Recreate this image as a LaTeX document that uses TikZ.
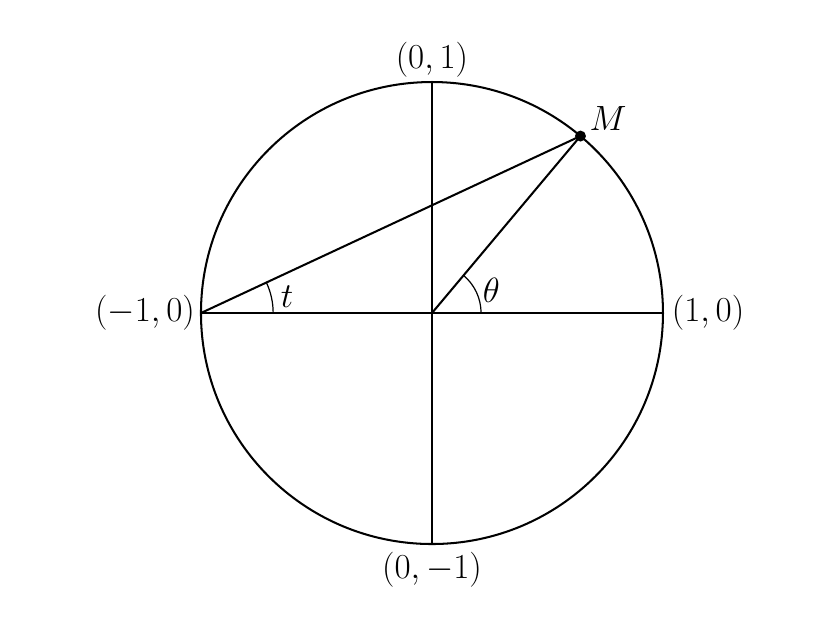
\documentclass[tikz,border=0pt]{standalone}
\usetikzlibrary{angles}
\begin{document}
\begin{tikzpicture}[line width=1.0pt,
  lbl/.style={font=\fontsize{17}{20}\selectfont, inner sep=0pt},
  dot/.style={circle, fill=black, inner sep=0pt, minimum size=0.19cm},
  arcst/.style={draw, line width=0.6pt}]
\useasboundingbox (-7.48,-5.437) rectangle (7.065,5.42);
\coordinate (O) at (0,0);
\coordinate (A) at (-4,0);
\coordinate (B) at (4,0);
\coordinate (C) at (0,4);
\coordinate (D) at (0,-4);
\coordinate (M) at (50:4);
\draw (O) circle (4);
\draw (A) -- (B);
\draw (C) -- (D);
\draw (A) -- (M);
\draw (O) -- (M);
\node[dot] (Md) at (M) {};
\pic[arcst, angle radius=1.25cm] {angle = B--A--M};
\pic[arcst, angle radius=0.85cm] {angle = B--O--M};
\node[lbl] (lC) at (0,4.38) {$(0,1)$};
\node[lbl] (lD) at (0,-4.45) {$(0,-1)$};
\node[lbl] (lA) at (-4.97,0) {$(-1,0)$};
\node[lbl] (lB) at (4.78,0) {$(1,0)$};
\node[lbl] (lM) at (3.05,3.36) {$M$};
\node[lbl] (lt) at (-2.51,0.29) {$t$};
\node[lbl] (lth) at (1.03,0.40) {$\theta$};
\end{tikzpicture}
\end{document}
